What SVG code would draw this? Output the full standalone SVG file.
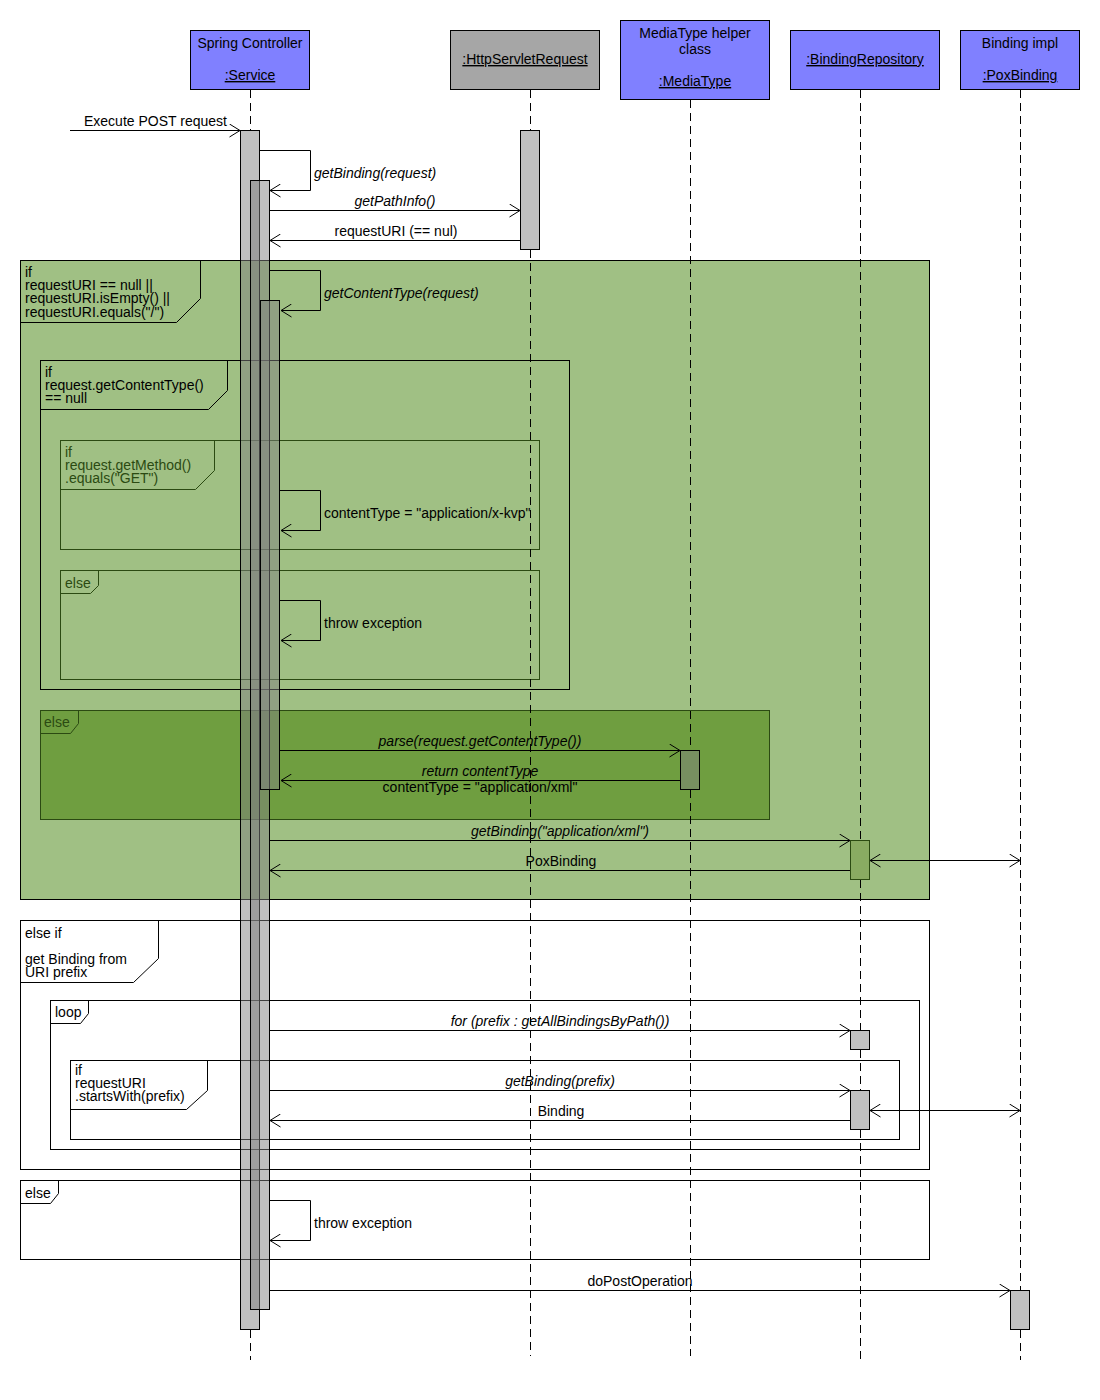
<svg xmlns="http://www.w3.org/2000/svg" width="1100" height="1400" viewBox="0 0 1100 1400">
<style>
text{font-family:"Liberation Sans",Arial,sans-serif;font-size:14px;fill:#000}
.it{font-style:italic}
.c{text-anchor:middle}
.u{text-decoration:underline}
.dg{fill:#2b4a12}
.head{stroke:#000;stroke-width:1}
.life{stroke:#000;stroke-width:1;stroke-dasharray:8,5;fill:none}
.act{fill:#808080;fill-opacity:0.5;stroke:#000;stroke-width:1}
.frame{fill:none;stroke:#000;stroke-width:1}
.dframe{fill:none;stroke:#2b4a12;stroke-width:1}
.msg{fill:none;stroke:#000;stroke-width:1;marker-end:url(#ah)}
.bi{fill:none;stroke:#000;stroke-width:1;marker-start:url(#ah2);marker-end:url(#ah2)}
</style>
<defs>
<marker id="ah" viewBox="0 0 12 14" refX="11" refY="7" markerWidth="12" markerHeight="14" markerUnits="userSpaceOnUse" orient="auto"><path d="M0.5,0.5 L11,7 L0.5,13.5" fill="none" stroke="#000" stroke-width="1"/></marker>
<marker id="ah2" viewBox="0 0 12 14" refX="11" refY="7" markerWidth="12" markerHeight="14" markerUnits="userSpaceOnUse" orient="auto-start-reverse"><path d="M0.5,0.5 L11,7 L0.5,13.5" fill="none" stroke="#000" stroke-width="1"/></marker>
</defs>
<rect width="1100" height="1400" fill="#fff"/>

<g id="fragments">
<g id="frag-if-requestURI">
<rect x="20.5" y="260.5" width="909" height="639" fill="#a0c084" stroke="#000"/>
<path class="frame" d="M20.5,322.5 H176.5 L200.5,298.5 V260.5"/>
<text x="25" y="277">if</text>
<text x="25" y="290">requestURI == null ||</text>
<text x="25" y="303">requestURI.isEmpty() ||</text>
<text x="25" y="317">requestURI.equals("/")</text>
</g>
<g id="frag-if-contenttype-null">
<rect class="frame" x="40.5" y="360.5" width="529" height="329"/>
<path class="frame" d="M40.5,409.5 H208.5 L227.5,390.5 V360.5"/>
<text x="45" y="377">if</text>
<text x="45" y="390">request.getContentType()</text>
<text x="45" y="403">== null</text>
</g>
<g id="frag-if-get">
<rect class="dframe" x="60.5" y="440.5" width="479" height="109"/>
<path class="dframe" d="M60.5,489.5 H195.5 L214.5,470.5 V440.5"/>
<text class="dg" x="65" y="457">if</text>
<text class="dg" x="65" y="470">request.getMethod()</text>
<text class="dg" x="65" y="483">.equals("GET")</text>
</g>
<g id="frag-else-get">
<rect class="dframe" x="60.5" y="570.5" width="479" height="109"/>
<path class="dframe" d="M60.5,593.5 H90.5 L98.5,585.5 V570.5"/>
<text class="dg" x="65" y="588">else</text>
</g>
<g id="frag-else-contenttype">
<rect x="40.5" y="710.5" width="729" height="109" fill="#6f9e40" stroke="#2b4a12"/>
<path class="dframe" d="M40.5,733.5 H70.5 L78.5,723.5 V710.5"/>
<text class="dg" x="44" y="727">else</text>
</g>
<g id="frag-else-if">
<rect class="frame" x="20.5" y="920.5" width="909" height="249"/>
<path class="frame" d="M20.5,982.5 H133.5 L158.5,958.5 V920.5"/>
<text x="25" y="938">else if</text>
<text x="25" y="964">get Binding from</text>
<text x="25" y="977">URI prefix</text>
</g>
<g id="frag-loop">
<rect class="frame" x="50.5" y="1000.5" width="869" height="149"/>
<path class="frame" d="M50.5,1023.5 H80.5 L88.5,1013.5 V1000.5"/>
<text x="55" y="1017">loop</text>
</g>
<g id="frag-if-prefix">
<rect class="frame" x="70.5" y="1060.5" width="829" height="79"/>
<path class="frame" d="M70.5,1109.5 H186.5 L207.5,1090.5 V1060.5"/>
<text x="75" y="1075">if</text>
<text x="75" y="1088">requestURI</text>
<text x="75" y="1101">.startsWith(prefix)</text>
</g>
<g id="frag-else-final">
<rect class="frame" x="20.5" y="1180.5" width="909" height="79"/>
<path class="frame" d="M20.5,1203.5 H50.5 L58.5,1193.5 V1180.5"/>
<text x="25" y="1198">else</text>
</g>
</g>

<g id="lifelines">
<g id="service">
<rect class="head" x="190.5" y="30.5" width="119" height="59" fill="#8080ff"/>
<text class="c" x="250" y="48">Spring Controller</text>
<text class="c u" x="250" y="80">:Service</text>
<path class="life" d="M250.5,90 V130 M250.5,1330 V1360"/>
</g>
<g id="httpservletrequest">
<rect class="head" x="450.5" y="30.5" width="149" height="59" fill="#a6a6a6"/>
<text class="c u" x="525" y="64">:HttpServletRequest</text>
<path class="life" d="M530.5,90 V130 M530.5,250 V1356"/>
</g>
<g id="mediatype">
<rect class="head" x="620.5" y="20.5" width="149" height="79" fill="#8080ff"/>
<text class="c" x="695" y="38">MediaType helper</text>
<text class="c" x="695" y="54">class</text>
<text class="c u" x="695" y="86">:MediaType</text>
<path class="life" d="M690.5,100 V750 M690.5,790 V1356"/>
</g>
<g id="bindingrepository">
<rect class="head" x="790.5" y="30.5" width="149" height="59" fill="#8080ff"/>
<text class="c u" x="865" y="64">:BindingRepository</text>
<path class="life" d="M860.5,90 V840 M860.5,880 V1030 M860.5,1050 V1090 M860.5,1130 V1360"/>
</g>
<g id="poxbinding">
<rect class="head" x="960.5" y="30.5" width="119" height="59" fill="#8080ff"/>
<text class="c" x="1020" y="48">Binding impl</text>
<text class="c u" x="1020" y="80">:PoxBinding</text>
<path class="life" d="M1020.5,90 V1290 M1020.5,1330 V1360"/>
</g>
</g>

<g id="activations">
<rect class="act" x="240.5" y="130.5" width="19" height="1199"/>
<rect class="act" x="250.5" y="180.5" width="19" height="1129"/>
<rect class="act" x="260.5" y="300.5" width="19" height="489"/>
<rect class="act" x="520.5" y="130.5" width="19" height="119"/>
<rect class="act" x="680.5" y="750.5" width="19" height="39"/>
<rect x="850.5" y="840.5" width="19" height="39" fill="#89ab62" stroke="#2b4a12"/>
<rect class="act" x="850.5" y="1030.5" width="19" height="19"/>
<rect class="act" x="850.5" y="1090.5" width="19" height="39"/>
<rect class="act" x="1010.5" y="1290.5" width="19" height="39"/>
</g>

<g id="connectors">
<path class="msg" d="M70,130.5 H240"/>
<text x="84" y="126">Execute POST request</text>
<path class="msg" d="M259,150.5 H310.5 V190.5 H270"/>
<text class="it" x="314" y="178">getBinding(request)</text>
<path class="msg" d="M269,210.5 H520"/>
<text class="it c" x="395" y="206">getPathInfo()</text>
<path class="msg" d="M520,240.5 H270"/>
<text class="c" x="396" y="236">requestURI (== nul)</text>
<path class="msg" d="M269,270.5 H320.5 V310.5 H281"/>
<text class="it" x="324" y="298">getContentType(request)</text>
<path class="msg" d="M279,490.5 H320.5 V530.5 H281"/>
<text x="324" y="518">contentType = "application/x-kvp"</text>
<path class="msg" d="M279,600.5 H320.5 V640.5 H281"/>
<text x="324" y="628">throw exception</text>
<path class="msg" d="M279,750.5 H680"/>
<text class="it c" x="480" y="746">parse(request.getContentType())</text>
<path class="msg" d="M680,780.5 H281"/>
<text class="it c" x="480" y="776">return contentType</text>
<text class="c" x="480" y="792">contentType = "application/xml"</text>
<path class="msg" d="M269,840.5 H850"/>
<text class="it c" x="560" y="836">getBinding("application/xml")</text>
<path class="msg" d="M850,870.5 H270"/>
<text class="c" x="561" y="866">PoxBinding</text>
<path class="bi" d="M870,860.5 H1020"/>
<path class="msg" d="M269,1030.5 H850"/>
<text class="it c" x="560" y="1026">for (prefix : getAllBindingsByPath())</text>
<path class="msg" d="M269,1090.5 H850"/>
<text class="it c" x="560" y="1086">getBinding(prefix)</text>
<path class="msg" d="M850,1120.5 H270"/>
<text class="c" x="561" y="1116">Binding</text>
<path class="bi" d="M870,1110.5 H1020"/>
<path class="msg" d="M269,1200.5 H310.5 V1240.5 H270"/>
<text x="314" y="1228">throw exception</text>
<path class="msg" d="M269,1290.5 H1010"/>
<text class="c" x="640" y="1286">doPostOperation</text>
</g>
</svg>
